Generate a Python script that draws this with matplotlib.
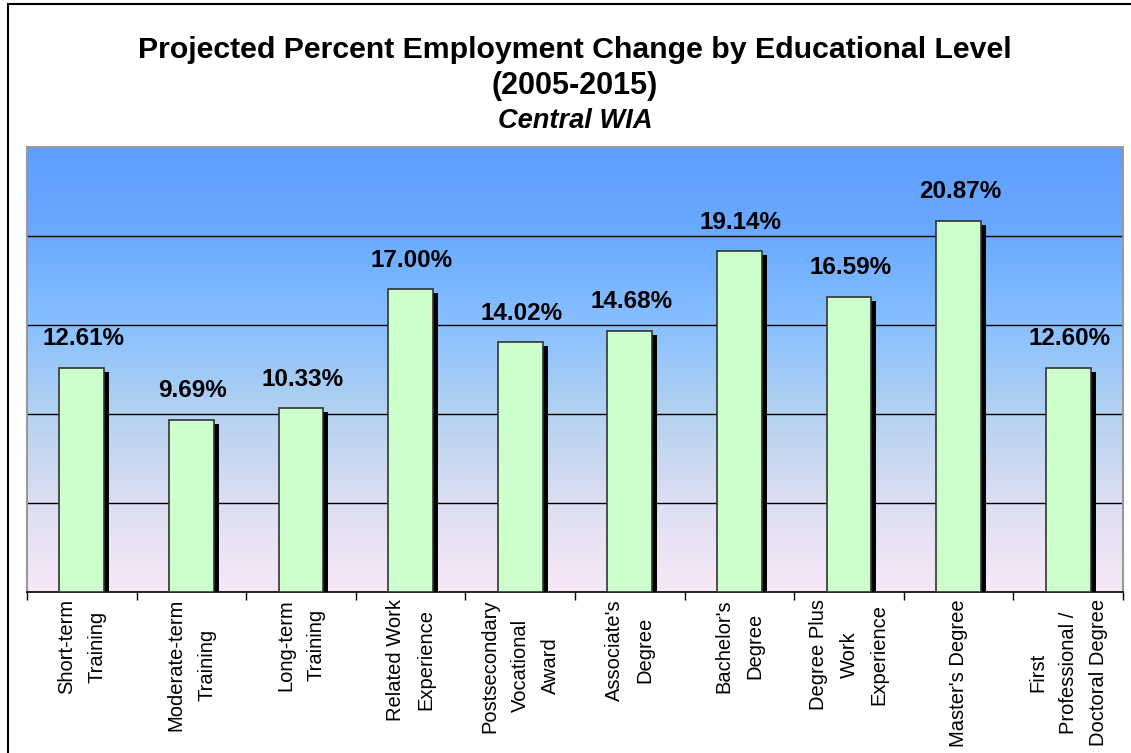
import numpy as np
import matplotlib
matplotlib.use("Agg")
import matplotlib.pyplot as plt
import matplotlib.transforms as mtransforms
from matplotlib.patches import Rectangle
from matplotlib.colors import LinearSegmentedColormap

# data
categories = ["Short-term\nTraining", "Moderate-term\nTraining", "Long-term\nTraining",
              "Related Work\nExperience", "Postsecondary\nVocational\nAward",
              "Associate's\nDegree", "Bachelor's\nDegree", "Degree Plus\nWork\nExperience",
              "Master's Degree", "First\nProfessional /\nDoctoral Degree"]
pct_change = [12.61, 9.69, 10.33, 17.00, 14.02, 14.68, 19.14, 16.59, 20.87, 12.60]
grid_levels = [5, 10, 15, 20]

plt.rcParams['font.family'] = ['Liberation Sans', 'DejaVu Sans']

W, H = 1131, 753
fig = plt.figure(figsize=(W / 100, H / 100), dpi=100)
fig.patch.set_facecolor('white')

# plot area in pixel terms
left, right, top, bottom = 27, 1123, 147, 592
ax = fig.add_axes([left / W, (H - bottom) / H, (right - left) / W, (bottom - top) / H])

x = np.arange(len(categories))
ax.set_xlim(-0.5, len(categories) - 0.5)
ax.set_ylim(0, 25)

# gradient background: blue at top, pale pink at bottom
bg = LinearSegmentedColormap.from_list('bg', [
    (0.0, '#5E9EFF'), (0.2, '#6AAAFF'), (0.4, '#88C0FF'),
    (0.6, '#B4D2F0'), (0.8, '#DCDEF2'), (1.0, '#F8E8F8')])
grad = np.linspace(0, 1, 256)[:, None]
ax.imshow(grad, cmap=bg, extent=[-0.5, len(categories) - 0.5, 0, 25],
          aspect='auto', origin='upper', zorder=0)

for g in grid_levels:
    ax.axhline(g, color='black', lw=1.0, zorder=1)

bar_w = 0.408
shadow_tr = mtransforms.offset_copy(ax.transData, fig=fig, x=5, y=-4, units='dots')
ax.bar(x, pct_change, width=bar_w, color='black', edgecolor='black',
       linewidth=0, transform=shadow_tr, zorder=2)
ax.bar(x, pct_change, width=bar_w, color='#CCFFCC', edgecolor='#333333',
       linewidth=1.2, zorder=3)

for xi, v in zip(x, pct_change):
    ax.annotate(f"{v:.2f}%", (xi, v), xytext=(1, 12.5), textcoords='offset points',
                ha='center', va='bottom', fontsize=17.5, fontweight='bold', zorder=4)

# axes styling
ax.set_yticks([])
ax.set_xticks(x)
ax.set_xticklabels(categories, rotation=90, ha='center', va='top',
                   multialignment='center', fontsize=14.5, linespacing=1.75)
ax.tick_params(axis='x', which='major', length=0, pad=5)
ax.set_xticks(np.arange(-0.5, len(categories)), minor=True)
ax.tick_params(axis='x', which='minor', length=6, width=1, direction='out', color='black')
for side in ['top', 'right', 'left']:
    ax.spines[side].set_color('#999999')
    ax.spines[side].set_linewidth(1.5)
ax.spines['bottom'].set_color('black')
ax.spines['bottom'].set_linewidth(1.2)

# titles
cx = (left + right) / 2 / W
fig.text(cx, 1 - 50 / H, "Projected Percent Employment Change by Educational Level",
         ha='center', va='center', fontsize=21.8, fontweight='bold')
fig.text(cx, 1 - 86 / H, "(2005-2015)", ha='center', va='center',
         fontsize=22, fontweight='bold')
fig.text(cx, 1 - 121 / H, "Central WIA", ha='center', va='center',
         fontsize=19.6, fontweight='bold', fontstyle='italic')

# outer chart border (only top and left are inside the picture)
fig.patches.append(Rectangle((8 / W, -0.1), 1.2, 1.1 - 4 / H, transform=fig.transFigure,
                             fill=False, edgecolor='black', linewidth=1.5))

fig.savefig("out.png", dpi=100)
